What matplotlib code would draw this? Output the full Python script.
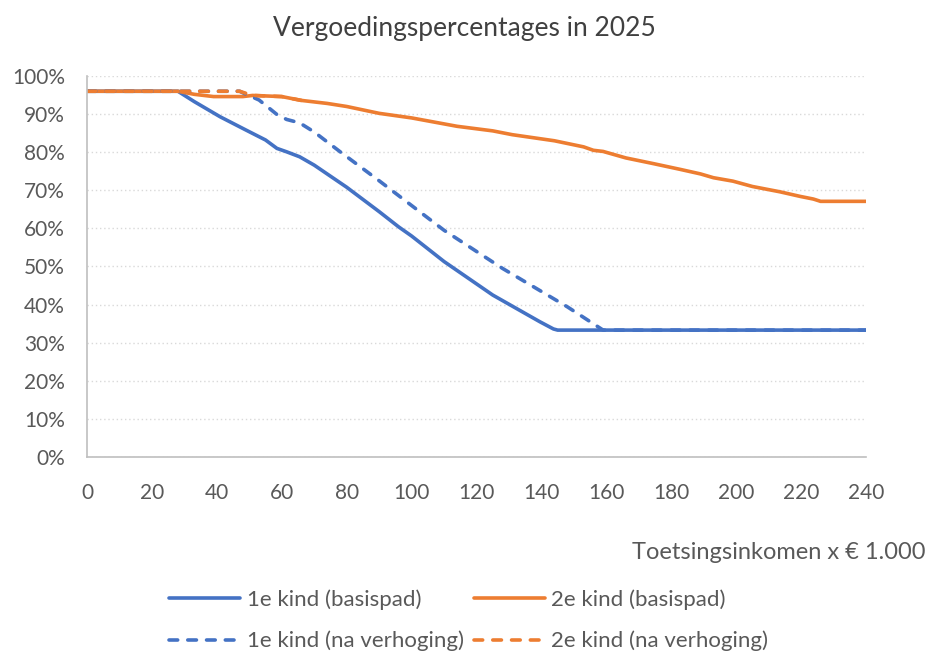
import matplotlib.pyplot as plt
from matplotlib.ticker import PercentFormatter

plt.rcParams['font.family'] = ['Lato', 'DejaVu Sans']

BLUE = "#4472C4"
ORANGE = "#ED7D31"
TXT = "#595959"

# 1e kind (basispad)
x_1e_basis = [0, 28, 33, 37, 41, 49, 55, 58.5, 61.5, 65.5, 70, 80, 90, 96, 100, 110, 125, 139.5, 143.7, 145, 240]
y_1e_basis = [96, 96, 93.3, 91.3, 89.3, 85.8, 83.2, 81.0, 80.1, 78.8, 76.6, 70.8, 64.4, 60.4, 58.0, 51.3, 42.5, 35.5, 33.6, 33.3, 33.3]

# 1e kind (na verhoging)
x_1e_verh = [0, 47, 48, 53, 58.5, 61.5, 65.5, 70, 78, 90, 110, 128, 148, 159, 240]
y_1e_verh = [96, 96, 95.6, 93.7, 89.9, 88.6, 87.7, 85.3, 80.1, 72.5, 59.5, 49.5, 39.4, 33.3, 33.3]

# 2e kind (basispad)
x_2e_basis = [0, 28, 33, 39, 48, 51, 60, 66, 74, 80, 90, 100, 114, 125, 131, 144, 153, 156, 159,
              166, 174.5, 182.7, 189, 193, 199, 205, 213.5, 219.7, 223.8, 226, 240]
y_2e_basis = [96, 96, 95.2, 94.6, 94.6, 94.9, 94.6, 93.6, 92.8, 92.0, 90.2, 89.0, 86.8, 85.6, 84.6, 83.0, 81.4,
              80.5, 80.2, 78.5, 77.0, 75.5, 74.3, 73.3, 72.4, 71.0, 69.6, 68.4, 67.7, 67.1, 67.1]

# 2e kind (na verhoging)
x_2e_verh = [0, 47, 51, 60, 66]
y_2e_verh = [96, 96, 94.9, 94.6, 93.6]

fig = plt.figure(figsize=(9.28, 6.53), dpi=100)
ax = fig.add_axes([0.0938, 0.3002, 0.8394, 0.5834])

lw = 2.6
dash = (0, (2.4, 2.8))
l1, = ax.plot(x_1e_basis, y_1e_basis, color=BLUE, lw=lw, solid_capstyle='round', label="1e kind (basispad)")
l2, = ax.plot(x_2e_basis, y_2e_basis, color=ORANGE, lw=lw, solid_capstyle='round', label="2e kind (basispad)")
l3, = ax.plot(x_1e_verh, y_1e_verh, color=BLUE, lw=lw, ls=dash, dash_capstyle='round',
              label="1e kind (na verhoging)")
l4, = ax.plot(x_2e_verh, y_2e_verh, color=ORANGE, lw=lw, ls=dash, dash_capstyle='round',
              label="2e kind (na verhoging)")

ax.set_xlim(0, 240)
ax.set_ylim(0, 100)
ax.set_xticks(range(0, 241, 20))
ax.set_yticks(range(0, 101, 10))
ax.yaxis.set_major_formatter(PercentFormatter(decimals=0))
ax.grid(axis='y', color='#D9D9D9', ls=(0, (1, 2)), lw=1)
ax.set_axisbelow(True)
for s in ['top', 'right']:
    ax.spines[s].set_visible(False)
for s in ['left', 'bottom']:
    ax.spines[s].set_color('#BFBFBF')
    ax.spines[s].set_linewidth(1.2)
ax.tick_params(length=0, labelsize=15, colors=TXT)
ax.tick_params(axis='y', pad=16)
ax.tick_params(axis='x', pad=19)

fig.text(0.5, 0.957, "Vergoedingspercentages in 2025", ha='center', va='center', fontsize=19, color='#404040')
fig.text(0.997, 0.154, "Toetsingsinkomen x € 1.000", ha='right', va='center', fontsize=17, color=TXT)

leg = fig.legend(handles=[l1, l3, l2, l4], ncol=2, loc='center', bbox_to_anchor=(0.505, 0.05),
                 frameon=False, fontsize=16, labelcolor=TXT, handlelength=3.2, handletextpad=0.3,
                 columnspacing=0.45, labelspacing=0.95)

fig.savefig("out.png", dpi=100)
